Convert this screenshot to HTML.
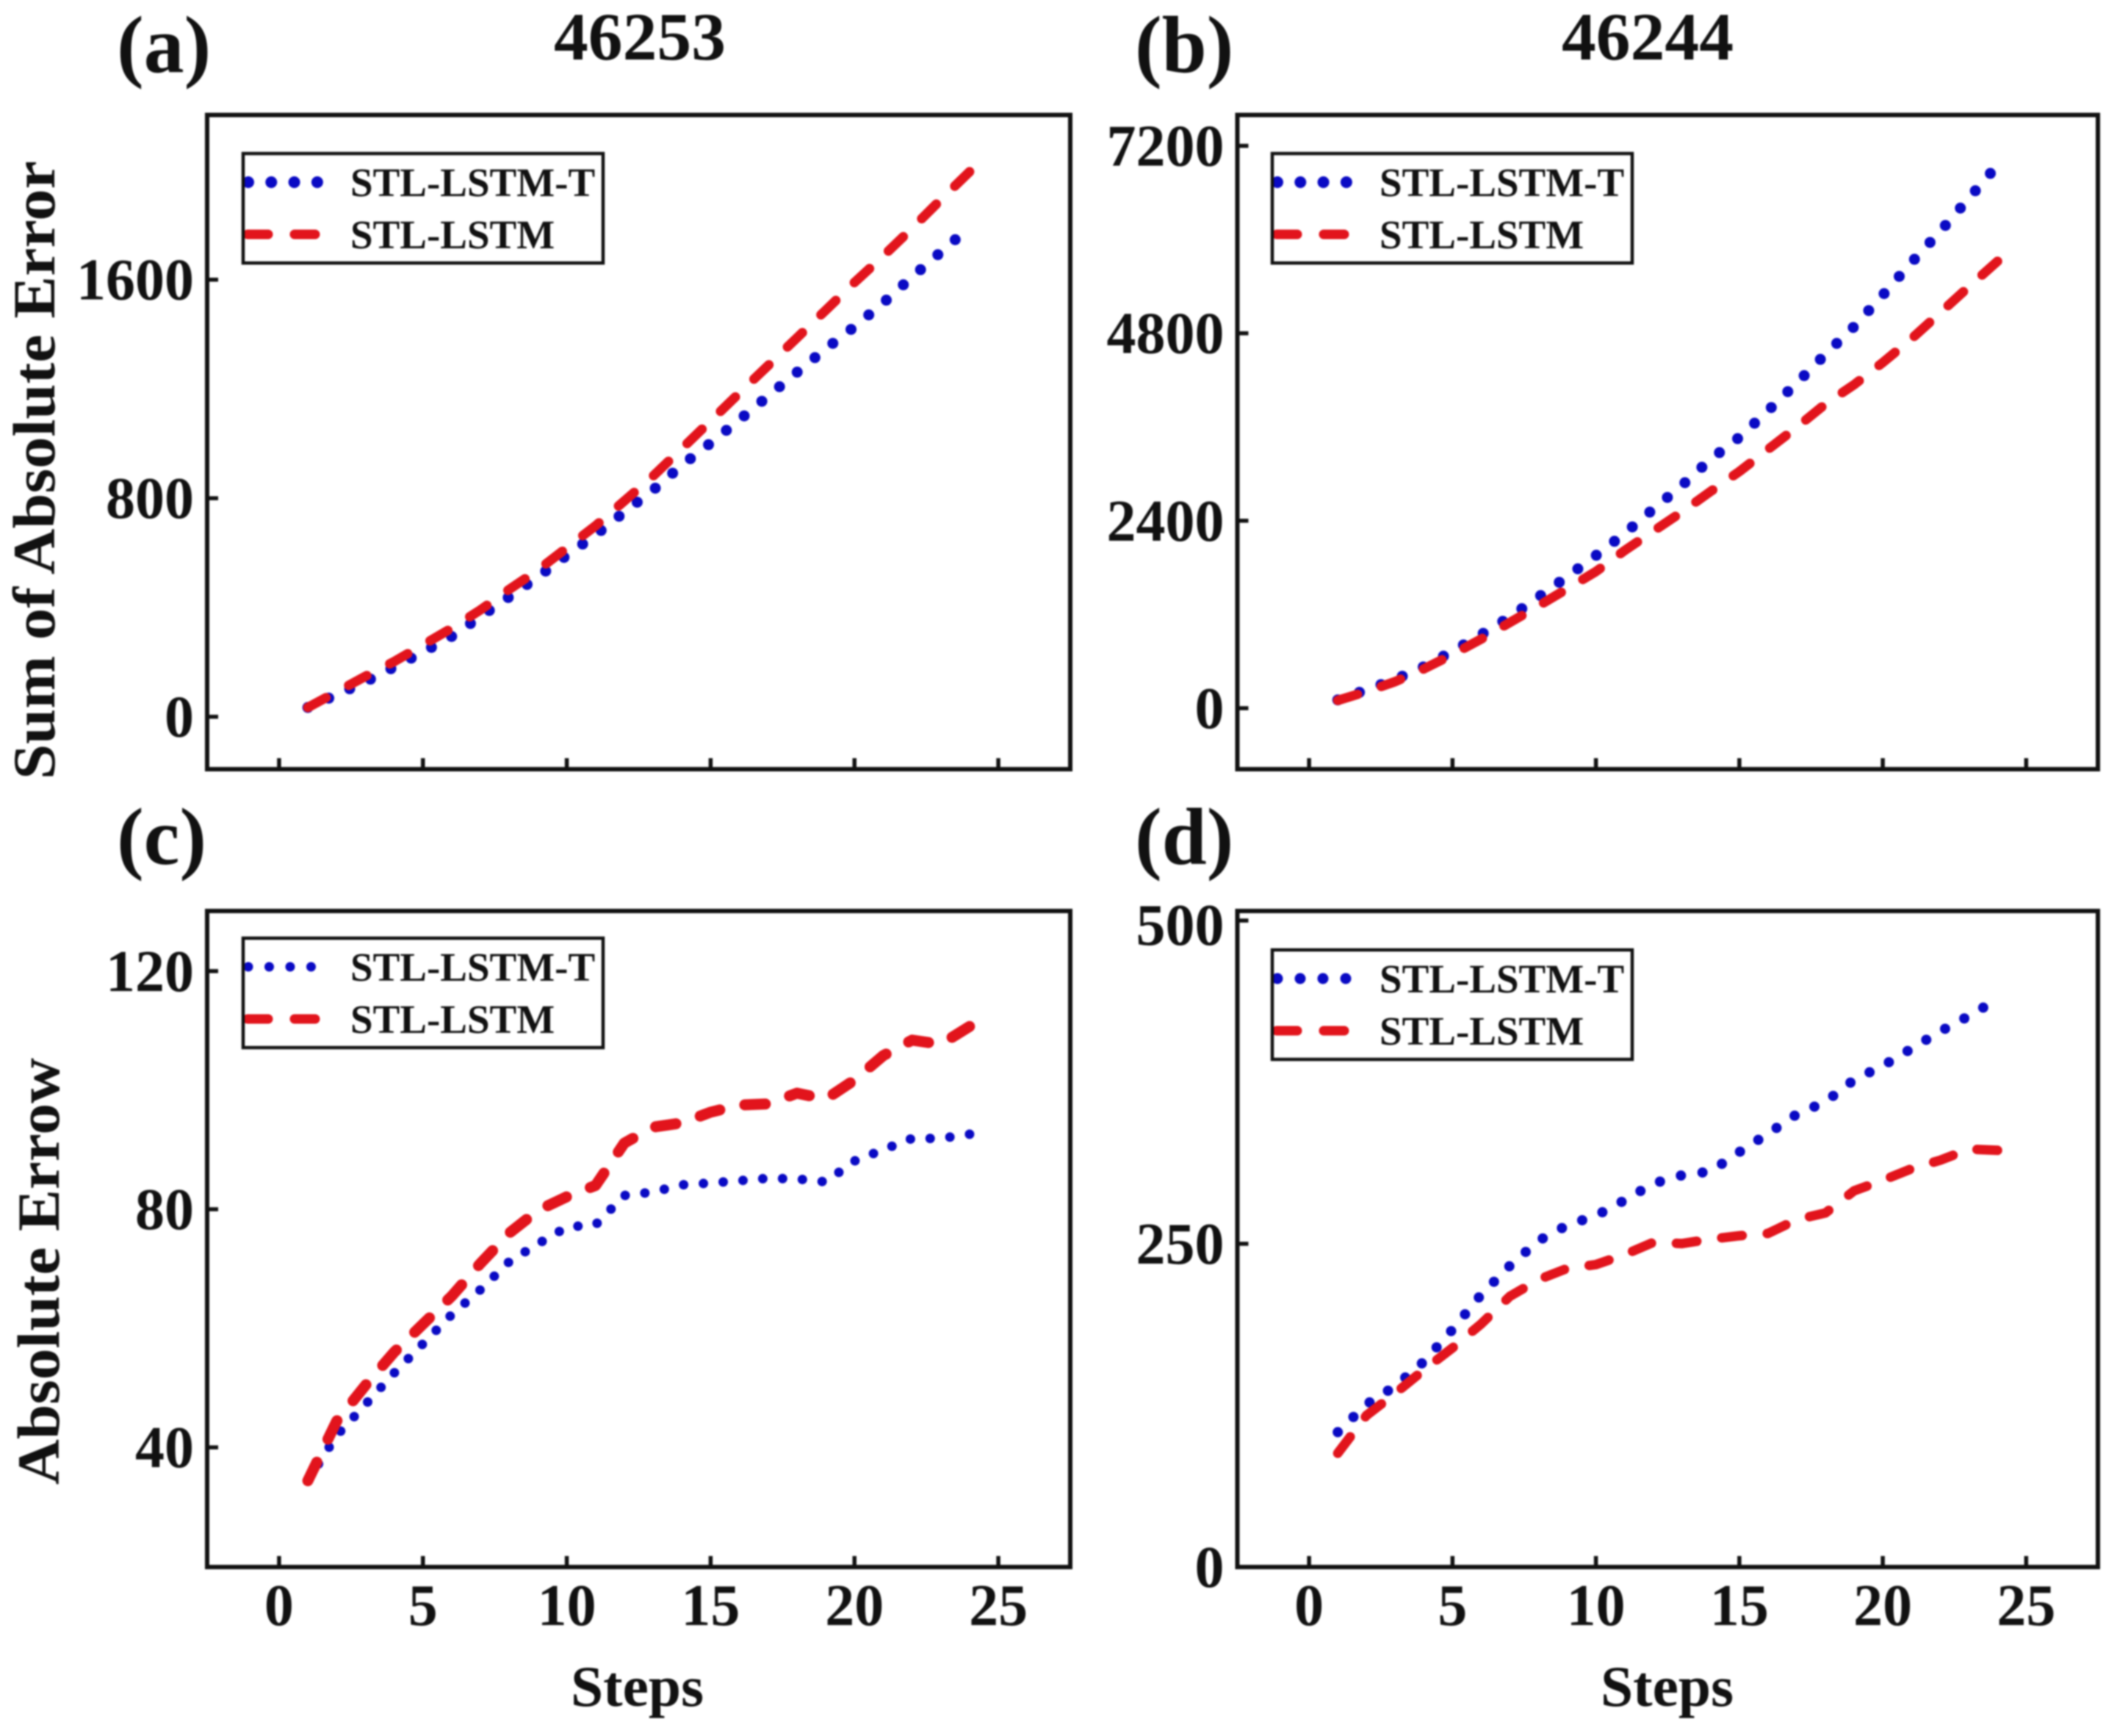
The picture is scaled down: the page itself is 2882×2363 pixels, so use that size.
<!DOCTYPE html>
<html lang="en">
<head>
<meta charset="utf-8">
<title>STL-LSTM-T vs STL-LSTM error curves</title>
<style>
html,body{margin:0;padding:0;background:#fff;}
body{width:2882px;height:2363px;overflow:hidden;}
svg{display:block;filter:blur(1.1px);}
text{font-family:"Liberation Serif",serif;font-weight:bold;fill:#111;}
</style>
</head>
<body>
<svg id="figure" xmlns="http://www.w3.org/2000/svg" width="2882" height="2363" viewBox="0 0 2882 2363">
  <rect x="0" y="0" width="2882" height="2363" fill="#fff"/>
  <text x="159" y="98" font-size="110">(a)</text>
  <text x="1545" y="98" font-size="110">(b)</text>
  <text x="159" y="1176" font-size="110">(c)</text>
  <text x="1545" y="1176" font-size="110">(d)</text>
  <text x="754" y="81" font-size="92" textLength="234" lengthAdjust="spacingAndGlyphs">46253</text>
  <text x="2126" y="81" font-size="92" textLength="234" lengthAdjust="spacingAndGlyphs">46244</text>
  <text transform="translate(74,1061) rotate(-90)" font-size="82" textLength="842" lengthAdjust="spacingAndGlyphs">Sum of Absolute Error</text>
  <text transform="translate(80,2021) rotate(-90)" font-size="82" textLength="581" lengthAdjust="spacingAndGlyphs">Absolute Errow</text>
  <text x="777" y="2322" font-size="78" textLength="181" lengthAdjust="spacingAndGlyphs">Steps</text>
  <text x="2179" y="2322" font-size="78" textLength="181" lengthAdjust="spacingAndGlyphs">Steps</text>
</svg>
<script>
const steps = [1,2,3,4,5,6,7,8,9,10,11,12,13,14,15,16,17,18,19,20,21,22,23,24];
const xTickLabels = [0,5,10,15,20,25];

const panelASeriesT = [34,81,128,182,237,294,367,439,512,591,666,749,830,921,1002,1087,1174,1261,1347,1428,1515,1610,1701,1792];
const panelASeriesBase = [34,91,148,202,263,324,391,466,537,618,699,790,881,982,1083,1185,1286,1387,1488,1590,1687,1788,1893,1995];
const panelATicks = [0,800,1600];

const panelBSeriesT = [106,234,368,531,729,942,1168,1423,1685,1954,2237,2549,2853,3186,3469,3809,4163,4531,4885,5289,5706,6103,6528,6953];
const panelBSeriesBase = [99,212,340,503,687,885,1097,1310,1529,1749,2018,2266,2513,2775,3030,3313,3597,3894,4142,4425,4729,5062,5395,5721];
const panelBTicks = [0,2400,4800,7200];

const panelCSeriesT = [34.4,42.0,47.2,52.5,57.4,62.3,66.5,71.2,74.2,77.0,77.4,82.3,82.9,84.1,84.4,84.8,85.2,85.1,84.6,88.1,90.0,91.9,91.9,92.6];
const panelCSeriesBase = [34.4,44.4,50.4,56.0,60.7,65.4,70.9,76.0,79.8,82.1,84.0,91.1,93.8,94.5,96.3,97.5,97.7,99.5,98.5,101.7,105.8,108.4,107.7,110.7];
const panelCTicks = [40,80,120];

const panelDSeriesT = [104.3,125.8,139.9,158.8,183.7,210.7,233.0,252.4,264.4,271.7,283.7,296.6,303.0,306.0,321.0,335.2,350.2,359.7,376.8,387.6,400.9,414.2,426.2,439.1];
const panelDSeriesBase = [88.0,117.2,134.3,152.4,169.5,188.0,209.4,222.3,231.0,233.9,241.6,251.1,250.2,253.6,256.2,258.0,268.7,273.8,291.0,299.1,308.0,314.6,323.2,322.3];
const panelDTicks = [0,250,500];

const legendLabelT = 'STL-LSTM-T';
const legendLabelBase = 'STL-LSTM';

const NS = 'http://www.w3.org/2000/svg';
const figure = document.getElementById('figure');
const BLUE = '#0a0ac4';
const RED = '#e2141c';
const INK = '#111';
const DASH = 28;
const DASH_PERIOD = 64;

function mk(tag, attrs, parent) {
  const el = document.createElementNS(NS, tag);
  for (const k in attrs) el.setAttribute(k, attrs[k]);
  parent.appendChild(el);
  return el;
}
function xAxis(p, v) {
  return p.left + (v - p.xMin) / (p.xMax - p.xMin) * (p.right - p.left);
}
function yAxis(p, v) {
  return p.bottom - (v - p.yMin) / (p.yMax - p.yMin) * (p.bottom - p.top);
}
function linePath(p, xs, ys) {
  return xs.map(function (x, i) {
    return (i ? 'L' : 'M') + xAxis(p, x).toFixed(1) + ' ' + yAxis(p, ys[i]).toFixed(1);
  }).join(' ');
}
/* on-screen length of a series from its first step up to step endX */
function lengthTo(p, xs, ys, endX) {
  let total = 0;
  for (let i = 1; i < xs.length && xs[i - 1] < endX; i++) {
    const f = Math.min(1, (endX - xs[i - 1]) / (xs[i] - xs[i - 1]));
    const dx = xAxis(p, xs[i]) - xAxis(p, xs[i - 1]);
    const dy = yAxis(p, ys[i]) - yAxis(p, ys[i - 1]);
    total += Math.hypot(dx, dy) * f;
  }
  return total;
}

function drawPanel(p) {
  const g = mk('g', {}, figure);
  
  

  const dotSpan = lengthTo(p, steps, p.seriesT, p.dotEnd);
  const dotGap = dotSpan / Math.round(dotSpan / p.dotGap);
  const lineT = mk('path', {
    d: linePath(p, steps, p.seriesT), fill: 'none', stroke: BLUE,
    'stroke-width': p.dotSize, 'stroke-linecap': 'round', 'stroke-linejoin': 'round',
    'stroke-dasharray': '0 ' + dotGap.toFixed(3)
  }, g);
  
  

  const dashSpan = lengthTo(p, steps, p.seriesBase, 24) - DASH;
  const dashPeriod = dashSpan / Math.round(dashSpan / DASH_PERIOD);
  const lineBase = mk('path', {
    d: linePath(p, steps, p.seriesBase), fill: 'none', stroke: RED,
    'stroke-width': p.dashWidth, 'stroke-linecap': 'round', 'stroke-linejoin': 'round',
    'stroke-dasharray': DASH + ' ' + (dashPeriod - DASH).toFixed(3)
  }, g);
  
  

  const frame = mk('rect', {
    x: p.left, y: p.top, width: p.right - p.left, height: p.bottom - p.top,
    fill: 'none', stroke: INK, 'stroke-width': 6
  }, g);
  
  

  xTickLabels.forEach(function (v) {
    const x = xAxis(p, v);
    const tick = mk('line', { x1: x, x2: x, y1: p.bottom, y2: p.bottom - 15, stroke: INK, 'stroke-width': 5.5 }, g);
    
    
    if (p.showXLabels) {
      const label = mk('text', { x: x, y: p.bottom + 79, 'font-size': 80, 'text-anchor': 'middle' }, g);
      label.textContent = String(v);
      
      
    }
  });

  p.ticks.forEach(function (v) {
    const y = yAxis(p, v);
    const tick = mk('line', { x1: p.left, x2: p.left + 15, y1: y, y2: y, stroke: INK, 'stroke-width': 5.5 }, g);
    
    
    const label = mk('text', {
      x: p.left - 18, y: y + 27 + (v === 500 ? 6 : 0),
      'font-size': 80, 'text-anchor': 'end'
    }, g);
    label.textContent = String(v);
    
    
  });

  const lx = p.legendX, ly = p.legendY;
  const legend = mk('g', {}, g);
  
  
  const clip = mk('clipPath', { id: 'legend-clip-' + p.id }, legend);
  mk('rect', { x: lx, y: ly, width: 490, height: 149 }, clip);

  const dots = mk('line', {
    x1: lx + 7, x2: lx + 112, y1: ly + 39, y2: ly + 39, stroke: BLUE,
    'stroke-width': p.legendDot, 'stroke-linecap': 'round',
    'stroke-dasharray': '0 ' + p.legendGap, 'clip-path': 'url(#legend-clip-' + p.id + ')'
  }, legend);
  
  

  const dashes = mk('line', {
    x1: lx + 6, x2: lx + 100, y1: ly + 110, y2: ly + 110, stroke: RED,
    'stroke-width': 13, 'stroke-linecap': 'round',
    'stroke-dasharray': '28 36', 'clip-path': 'url(#legend-clip-' + p.id + ')'
  }, legend);
  
  

  const box = mk('rect', { x: lx, y: ly, width: 490, height: 149, fill: 'none', stroke: INK, 'stroke-width': 4.5 }, legend);
  
  

  const labelT = mk('text', { x: lx + 146, y: ly + 58, 'font-size': 55 }, legend);
  labelT.textContent = legendLabelT;
  
  

  const labelBase = mk('text', { x: lx + 146, y: ly + 129, 'font-size': 55 }, legend);
  labelBase.textContent = legendLabelBase;
  
  
}

drawPanel({ id: 'a', left: 282, right: 1457, top: 156.5, bottom: 1047, xMin: -2.5, xMax: 27.5, yMin: -192, yMax: 2203,
  ticks: panelATicks, seriesT: panelASeriesT, seriesBase: panelASeriesBase, showXLabels: false, dotEnd: 23.5,
  legendX: 331, legendY: 209, dotSize: 15, dotGap: 31, dashWidth: 13, legendDot: 16, legendGap: 31.3 });
drawPanel({ id: 'b', left: 1684.5, right: 2856, top: 156.5, bottom: 1047, xMin: -2.5, xMax: 27.5, yMin: -781, yMax: 7595,
  ticks: panelBTicks, seriesT: panelBSeriesT, seriesBase: panelBSeriesBase, showXLabels: false, dotEnd: 23.75,
  legendX: 1732, legendY: 209, dotSize: 15, dotGap: 31, dashWidth: 13, legendDot: 16, legendGap: 31.3 });
drawPanel({ id: 'c', left: 282, right: 1457, top: 1240, bottom: 2133, xMin: -2.5, xMax: 27.5, yMin: 19.9, yMax: 130.1,
  ticks: panelCTicks, seriesT: panelCSeriesT, seriesBase: panelCSeriesBase, showXLabels: true, dotEnd: 24,
  legendX: 331, legendY: 1277, dotSize: 13, dotGap: 27, dashWidth: 15, legendDot: 13, legendGap: 28.5 });
drawPanel({ id: 'd', left: 1684.5, right: 2856, top: 1240, bottom: 2133, xMin: -2.5, xMax: 27.5, yMin: 0, yMax: 507.4,
  ticks: panelDTicks, seriesT: panelDSeriesT, seriesBase: panelDSeriesBase, showXLabels: true, dotEnd: 23.5,
  legendX: 1732, legendY: 1293, dotSize: 14, dotGap: 30, dashWidth: 13, legendDot: 15, legendGap: 31 });
</script>
</body>
</html>
